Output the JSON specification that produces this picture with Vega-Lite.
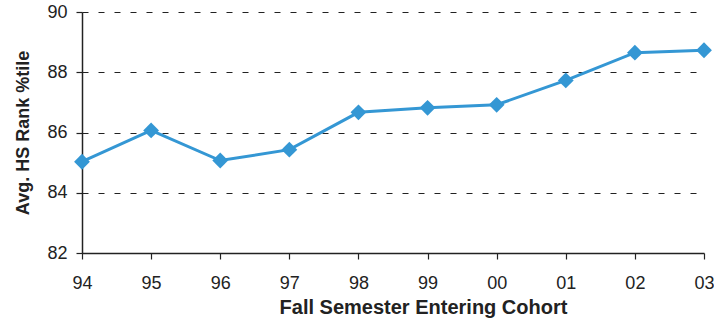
{
  "$schema": "https://vega.github.io/schema/vega-lite/v6.json",
  "width": 622,
  "height": 241,
  "autosize": {"type": "none"},
  "padding": {"left": 82, "top": 12, "right": 10, "bottom": 66},
  "background": "white",
  "data": {"values": [
    {"cohort": "94", "rank": 85.03},
    {"cohort": "95", "rank": 86.07},
    {"cohort": "96", "rank": 85.07},
    {"cohort": "97", "rank": 85.43},
    {"cohort": "98", "rank": 86.67},
    {"cohort": "99", "rank": 86.82},
    {"cohort": "00", "rank": 86.92},
    {"cohort": "01", "rank": 87.73},
    {"cohort": "02", "rank": 88.65},
    {"cohort": "03", "rank": 88.73}
  ]},
  "config": {
    "view": {"stroke": null},
    "font": "Liberation Sans",
    "axis": {
      "labelFont": "Liberation Sans",
      "titleFont": "Liberation Sans",
      "labelFontSize": 18,
      "titleFontSize": 18,
      "labelColor": "#222",
      "titleColor": "#222",
      "domainColor": "#222",
      "tickColor": "#222",
      "domainWidth": 1.5,
      "tickWidth": 1.2
    }
  },
  "encoding": {
    "x": {
      "field": "cohort", "type": "ordinal", "sort": null,
      "scale": {"type": "point", "padding": 0},
      "axis": {"title": "Fall Semester Entering Cohort", "titleFontSize": 20, "titleX": 341, "labelAngle": 0, "tickSize": 6, "labelPadding": 15, "titlePadding": 5, "grid": false}
    },
    "y": {
      "field": "rank", "type": "quantitative",
      "scale": {"domain": [82, 90], "nice": false, "zero": false},
      "axis": {"title": "Avg. HS Rank %tile", "values": [82, 84, 86, 88, 90], "tickSize": 6, "labelPadding": 9, "titlePadding": 14,
        "grid": true, "gridColor": "#222", "gridDash": [6, 10], "gridWidth": 1.2}
    }
  },
  "layer": [
    {"mark": {"type": "line", "color": "#3497d4", "strokeWidth": 3}},
    {"mark": {"type": "point", "shape": "diamond", "filled": true, "color": "#3497d4", "size": 250, "opacity": 1}}
  ]
}
